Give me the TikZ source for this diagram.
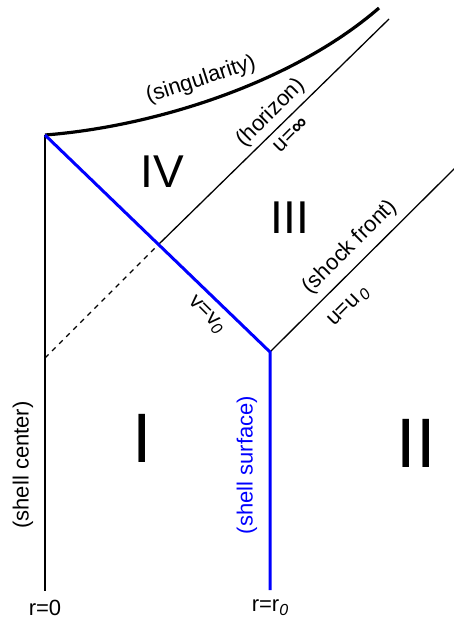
\documentclass[tikz,border=0pt]{standalone}
\usepackage{fontspec}
\setmainfont{Liberation Sans}
\begin{document}
\begin{tikzpicture}[x=1pt,y=-1pt,
  thinline/.style={line width=1.3pt,black},
  shellline/.style={line width=3pt,blue,line join=miter},
  singline/.style={line width=3.2pt,black},
  lab/.style={font=\fontsize{22}{22}\selectfont,inner sep=0pt},
  bigroman/.style={font=\fontsize{70}{70}\selectfont,inner sep=0pt},
  midroman/.style={font=\fontsize{46}{46}\selectfont,inner sep=0pt}]
\useasboundingbox (0,0) rectangle (453,620);
\coordinate (A) at (45,135);
\coordinate (B) at (45,591);
\coordinate (C) at (270,352);
\coordinate (D) at (270,590);
\coordinate (H) at (158,245);
\coordinate (Hend) at (389,19);
\coordinate (S) at (379,8);
\coordinate (Send) at (455,168);
\coordinate (Ds) at (45,358);
% lines
\draw[thinline] (A) -- (B);
\draw[thinline, dash pattern=on 5pt off 5pt] (Ds) -- (H);
\draw[thinline] (H) -- (Hend);
\draw[thinline] (C) -- (Send);
\draw[singline] (A) .. controls (150,127) and (290,85) .. (S);
\draw[shellline] (A) -- (C) -- (D);
% labels
\node[lab, rotate=18] (ls) at (201,80) {(singularity)};
\node[lab, rotate=45] (lh) at (271,113) {(horizon)};
\node[lab, rotate=45] (lu) at (291,135) {u=\textbf{∞}};
\node[lab, rotate=45] (lsf) at (350,247) {(shock front)};
\node[lab, rotate=45] (luu) at (349,307) {u=u\raisebox{-0.35ex}{\fontsize{16}{16}\selectfont\,\textit{0}}};
\node[lab, rotate=-45] (lv) at (206,315) {v=v\raisebox{-0.35ex}{\fontsize{16}{16}\selectfont\textit{0}}};
\node[lab, rotate=90] (lc) at (23,465) {(shell center)};
\node[lab, rotate=90, text=blue] (lss) at (247,465) {(shell surface)};
\node[lab] (r0) at (45,608) {r=0};
\node[lab] (rr0) at (270,608) {r=r\raisebox{-0.35ex}{\fontsize{16}{16}\selectfont\textit{0}}};
\node[bigroman] (I) at (142,438) {I};
\node[bigroman] (II) at (416,443) {II};
\node[midroman] (III) at (290,218) {III};
\node[midroman] (IV) at (162,172) {IV};
\end{tikzpicture}
\end{document}
